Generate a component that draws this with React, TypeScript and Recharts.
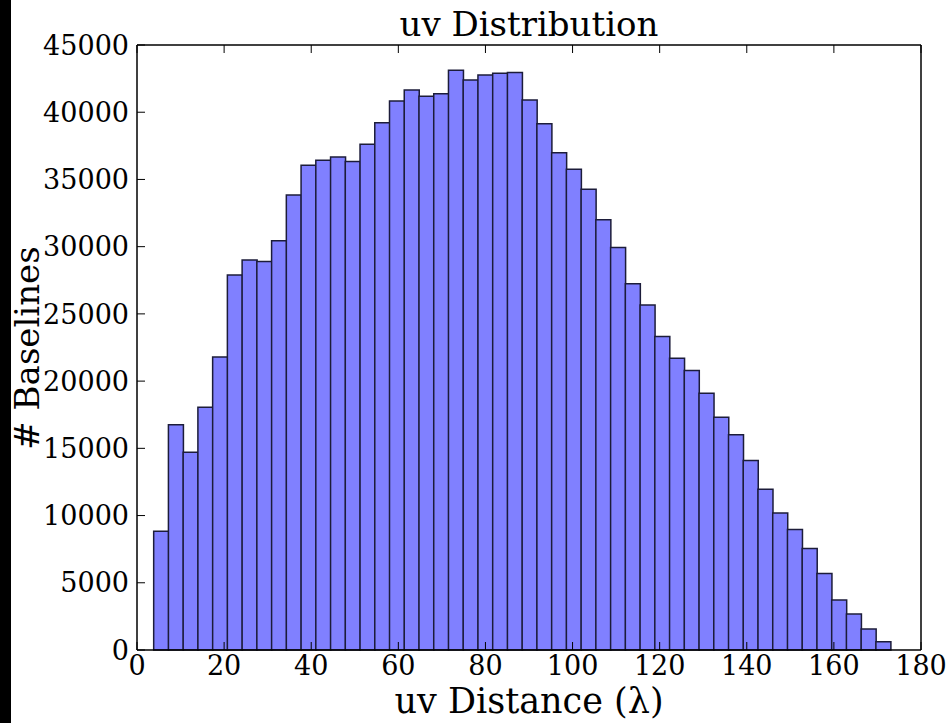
import React from "react";
import { BarChart, Bar, XAxis, YAxis } from "recharts";

// Histogram of uv distances
const binStart = 3.83; // left edge of first bin (lambda)
const binWidth = 3.384; // bin width (lambda)
const counts = [
  8830, 16760, 14700, 18060, 21800, 27890, 29000, 28900, 30440, 33850,
  36060, 36430, 36670, 36330, 37620, 39220, 40830, 41650, 41180, 41370,
  43130, 42390, 42760, 42890, 42960, 40900, 39150, 36990, 35760, 34270,
  32000, 29940, 27250, 25660, 23310, 21700, 20790, 19100, 17320, 16010,
  14100, 11950, 10190, 8960, 7550, 5690, 3710, 2670, 1560, 620,
];
const xTicks = [0, 20, 40, 60, 80, 100, 120, 140, 160, 180];
const yTicks = [0, 5000, 10000, 15000, 20000, 25000, 30000, 35000, 40000, 45000];
const xDomain = [0, 180];
const yDomain = [0, 45000];

const title = "uv Distribution";
const xLabel = "uv Distance (λ)";
const yLabel = "# Baselines";

const data = counts.map((c, i) => ({
  bin: String(i),
  center: binStart + (i + 0.5) * binWidth,
  count: c,
}));

const W = 947;
const H = 723;
const margin = { top: 44, right: 25, bottom: 43, left: 57 };
const yAxisW = 80;
const xAxisH = 30;
const plotW = W - margin.left - yAxisW - margin.right - 1;
const binEnd = binStart + counts.length * binWidth;
const padLeft = ((binStart - xDomain[0]) / (xDomain[1] - xDomain[0])) * plotW;
const padRight = ((xDomain[1] - binEnd) / (xDomain[1] - xDomain[0])) * plotW;

const font = "'DejaVu Serif', serif";
const TICK_LEN = 8;
const LEFT_MARGIN = 8;
const BOTTOM_MARGIN = 6;
const tickFontSize = 27;

const LeftTick = (props: any) => {
  const { x, y, payload } = props;
  const ax = x + LEFT_MARGIN;
  return (
    <g>
      <line x1={ax} x2={ax + TICK_LEN} y1={y} y2={y} stroke="#000" strokeWidth={1} />
      <text x={x} y={y} dy="0.36em" textAnchor="end" fontFamily={font} fontSize={tickFontSize} fill="#000">
        {payload.value}
      </text>
    </g>
  );
};

const BottomTick = (props: any) => {
  const { x, y, payload } = props;
  const ay = y - BOTTOM_MARGIN;
  return (
    <g>
      <line x1={x} x2={x} y1={ay} y2={ay - TICK_LEN} stroke="#000" strokeWidth={1} />
      <text x={x} y={y} dy="0.72em" textAnchor="middle" fontFamily={font} fontSize={tickFontSize} fill="#000">
        {payload.value}
      </text>
    </g>
  );
};

const TopTick = (props: any) => {
  const { x, y } = props;
  return <line x1={x} x2={x} y1={y} y2={y + TICK_LEN} stroke="#000" strokeWidth={1} />;
};

const RightTick = (props: any) => {
  const { x, y } = props;
  return <line x1={x} x2={x - TICK_LEN} y1={y} y2={y} stroke="#000" strokeWidth={1} />;
};

export default function App() {
  return (
    <div
      style={{
        position: "fixed",
        left: 0,
        top: 0,
        width: W,
        height: H,
        background: "#fff",
        overflow: "hidden",
      }}
    >
      <div
        style={{
          position: "absolute",
          left: 0,
          top: 0,
          width: 11,
          height: H,
          background: "#000",
        }}
      />
      <div style={{ position: "absolute", left: 0, top: 0 }}>
        <BarChart
          width={W}
          height={H}
          data={data}
          margin={margin}
          barCategoryGap={0}
          barGap={0}
        >
          <XAxis
            xAxisId="cat"
            dataKey="bin"
            type="category"
            hide
            height={0}
            padding={{ left: padLeft, right: padRight }}
          />
          <XAxis
            xAxisId="num"
            dataKey="center"
            type="number"
            domain={xDomain}
            ticks={xTicks}
            allowDataOverflow
            height={xAxisH}
            tickSize={0}
            tickMargin={BOTTOM_MARGIN}
            tick={<BottomTick />}
            tickLine={false}
            axisLine={{ stroke: "#000", strokeWidth: 1.5 }}
            interval={0}
          />
          <XAxis
            xAxisId="top"
            orientation="top"
            dataKey="center"
            type="number"
            domain={xDomain}
            ticks={xTicks}
            allowDataOverflow
            height={1}
            tickSize={0}
            tickMargin={0}
            tick={<TopTick />}
            tickLine={false}
            axisLine={{ stroke: "#000", strokeWidth: 1.5 }}
            interval={0}
          />
          <YAxis
            yAxisId="left"
            type="number"
            domain={yDomain}
            ticks={yTicks}
            width={yAxisW}
            tickSize={0}
            tickMargin={LEFT_MARGIN}
            tick={<LeftTick />}
            tickLine={false}
            axisLine={{ stroke: "#000", strokeWidth: 1.5 }}
            interval={0}
          />
          <YAxis
            yAxisId="right"
            orientation="right"
            type="number"
            domain={yDomain}
            ticks={yTicks}
            width={1}
            tickSize={0}
            tickMargin={0}
            tick={<RightTick />}
            tickLine={false}
            axisLine={{ stroke: "#000", strokeWidth: 1.5 }}
            interval={0}
          />
          <Bar
            xAxisId="cat"
            yAxisId="left"
            dataKey="count"
            fill="#8080ff"
            stroke="#1c1c3a"
            strokeWidth={1.5}
            isAnimationActive={false}
          />
        </BarChart>
      </div>
      <div
        style={{
          position: "absolute",
          left: 137,
          width: 784,
          top: 2,
          textAlign: "center",
          fontFamily: font,
          fontSize: 34,
          lineHeight: "44px",
          color: "#000",
        }}
      >
        {title}
      </div>
      <div
        style={{
          position: "absolute",
          left: 137,
          width: 784,
          top: 686,
          textAlign: "center",
          fontFamily: font,
          fontSize: 35,
          lineHeight: "30px",
          color: "#000",
        }}
      >
        {xLabel}
      </div>
      <div
        style={{
          position: "absolute",
          left: 27 - 200,
          top: 348 - 17,
          width: 400,
          height: 34,
          textAlign: "center",
          fontFamily: font,
          fontSize: 34,
          lineHeight: "34px",
          color: "#000",
          transform: "rotate(-90deg)",
        }}
      >
        {yLabel}
      </div>
    </div>
  );
}
